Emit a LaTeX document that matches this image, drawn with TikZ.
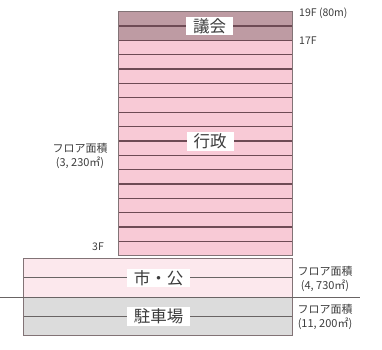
\documentclass[tikz,border=0pt]{standalone}
\usepackage{fontspec}
\setmainfont{Noto Sans CJK JP}
\definecolor{council}{RGB}{190,155,163}
\definecolor{admin}{RGB}{248,202,214}
\definecolor{cityfill}{RGB}{252,232,237}
\definecolor{parkfill}{RGB}{220,220,220}
\definecolor{floorline}{RGB}{110,75,85}
\definecolor{edge}{RGB}{130,115,118}
\definecolor{lowline}{RGB}{105,100,100}
\definecolor{txt}{RGB}{60,60,60}
\tikzset{
  floorln/.style={draw=floorline,line width=1.3pt},
  lowln/.style={draw=lowline,line width=1pt},
  outline/.style={draw=edge,line width=1pt},
  biglabel/.style={fill=white,text=txt,font=\fontsize{16.5}{18}\selectfont,inner xsep=7pt,inner ysep=1.5pt},
  smalllabel/.style={text=txt,font=\fontsize{10.5}{11}\selectfont,inner sep=0pt},
  arealabel/.style={text=txt,font=\fontsize{11}{14}\selectfont,align=center,inner sep=0pt}
}
\begin{document}
\begin{tikzpicture}[x=1pt,y=-1pt]
\useasboundingbox (0,0) rectangle (382,349);
% tower fills
\fill[council] (118.3,11.7) rectangle (292.7,40.4);
\fill[admin] (118.3,40.4) rectangle (292.7,255.65);
\foreach \i in {1,...,16} {
  \draw[floorln] (118.3,{11.7+14.35*\i}) -- (292.7,{11.7+14.35*\i});
}
\draw[outline] (118.3,11.7) rectangle (292.7,255.65);
% lower block
\fill[cityfill] (23,258.3) rectangle (292.7,297.3);
\fill[parkfill] (23,297.3) rectangle (292.7,335.7);
\draw[lowln] (23,277.8) -- (292.7,277.8);
\draw[lowln] (23,316.5) -- (292.7,316.5);
\draw[outline] (23,258.3) rectangle (292.7,335.7);
% ground line
\coordinate (gl) at (0,297.3);
\coordinate (gr) at (360,297.3);
\draw[lowln] (gl) -- (gr);
% labels
\node[biglabel] (gikai) at (209.5,26.05) {議会};
\node[biglabel] (gyosei) at (210,141.5) {行政};
\node[biglabel] (shiko) at (158.5,277.8) {市・公};
\node[biglabel] (chusha) at (158.5,316.5) {駐車場};
\node[smalllabel,anchor=west] (f19) at (299,13) {19F (80m)};
\node[smalllabel,anchor=west] (f17) at (299,41) {17F};
\node[smalllabel,anchor=east] (f3) at (104,247) {3F};
\node[arealabel] (a1) at (80,155.5) {フロア面積\\(3, 230㎡)};
\node[arealabel] (a2) at (325,278.5) {フロア面積\\(4, 730㎡)};
\node[arealabel] (a3) at (325,316.5) {フロア面積\\(11, 200㎡)};
\end{tikzpicture}
\end{document}
